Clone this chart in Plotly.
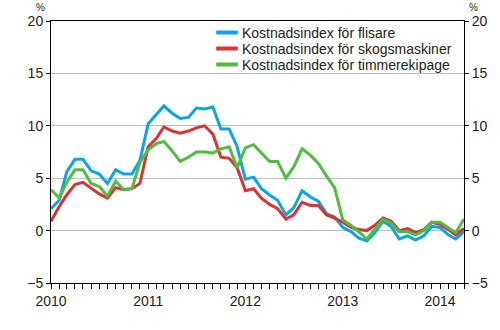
import plotly.graph_objects as go
import pandas as pd

dates = pd.date_range("2010-01-01", "2014-04-01", freq="MS")

flisare = [2.1, 2.9, 5.6, 6.8, 6.8, 5.7, 5.4, 4.5, 5.8, 5.4, 5.4, 6.7,
           10.2, 11.1, 11.9, 11.2, 10.7, 10.8, 11.7, 11.6, 11.8, 9.7, 9.7, 8.0,
           4.9, 5.1, 4.0, 3.4, 2.9, 1.5, 2.2, 3.8, 3.2, 2.8, 1.6, 1.3,
           0.3, -0.1, -0.7, -1.0, -0.2, 0.9, 0.4, -0.8, -0.5, -0.9, -0.5, 0.4,
           0.3, -0.4, -0.8, -0.1]
skogsmaskiner = [0.9, 2.3, 3.4, 4.4, 4.6, 4.0, 3.5, 3.1, 4.1, 3.9, 4.0, 4.5,
                 8.0, 8.8, 9.9, 9.5, 9.3, 9.5, 9.8, 10.0, 9.2, 7.0, 6.9, 6.0,
                 3.8, 4.0, 3.1, 2.5, 2.1, 1.1, 1.5, 2.7, 2.4, 2.4, 1.5, 1.2,
                 0.8, 0.3, 0.1, 0.0, 0.5, 1.2, 0.9, 0.0, 0.2, -0.2, 0.1, 0.8,
                 0.6, 0.1, -0.4, 0.2]
timmerekipage = [3.9, 3.1, 4.6, 5.8, 5.8, 4.5, 4.2, 3.3, 4.7, 3.9, 4.0, 6.5,
                 7.7, 8.3, 8.5, 7.6, 6.6, 7.0, 7.5, 7.5, 7.4, 7.8, 8.0, 6.0,
                 7.9, 8.2, 7.4, 6.6, 6.6, 5.0, 6.1, 7.8, 7.2, 6.4, 5.2, 4.1,
                 1.0, 0.5, -0.1, -0.8, 0.1, 1.1, 0.7, -0.1, -0.1, -0.4, 0.0, 0.8,
                 0.8, 0.3, -0.2, 1.1]

names = ["Kostnadsindex för flisare", "Kostnadsindex för skogsmaskiner",
         "Kostnadsindex för timmerekipage"]
colors = ["#0AA5E6", "#DC3232", "#50BE3C"]
series = [flisare, skogsmaskiner, timmerekipage]

y_ticks = [-5, 0, 5, 10, 15, 20]
year_ticks = ["2010-01-01", "2011-01-01", "2012-01-01", "2013-01-01", "2014-01-01"]
year_labels = ["2010", "2011", "2012", "2013", "2014"]

FAM = "Liberation Sans, Arial, sans-serif"
font = dict(family=FAM, size=14, color="#222222")

# plot area in pixels (for legend placement in paper coords)
L, R, T, B = 51, 471, 21, 283
def px(x):
    return (x - L) / (R - L)
def py(y):
    return 1 - (y - T) / (B - T)

fig = go.Figure()
for name, col, vals in zip(names, colors, series):
    fig.add_trace(go.Scatter(x=dates, y=vals, name=name, mode="lines",
                             line=dict(color=col, width=3)))
# invisible trace for the right axis
fig.add_trace(go.Scatter(x=dates, y=flisare, yaxis="y2", mode="lines",
                         line=dict(width=0), opacity=0, showlegend=False,
                         hoverinfo="skip"))

shapes = [dict(type="rect", xref="paper", yref="paper", x0=px(218), x1=1,
               y0=py(79), y1=py(21.5), fillcolor="white", line=dict(width=0),
               layer="below")]
annotations = []
row_y = [32.5, 48.5, 64.5]
for name, col, yy in zip(names, colors, row_y):
    shapes.append(dict(type="line", xref="paper", yref="paper", x0=px(219), x1=px(241),
                       y0=py(yy), y1=py(yy), line=dict(color=col, width=4)))
    annotations.append(dict(text=name, xref="paper", yref="paper", x=px(243), y=py(yy),
                            xanchor="left", yanchor="middle", showarrow=False,
                            font=font))
pct_font = dict(family=FAM, size=10, color="#222")
annotations += [
    dict(text="%", xref="paper", yref="paper", x=px(40), y=py(7.5), xanchor="center",
         yanchor="middle", showarrow=False, font=pct_font),
    dict(text="%", xref="paper", yref="paper", x=px(481), y=py(7.5), xanchor="center",
         yanchor="middle", showarrow=False, font=pct_font),
]

xr = [dates[0], dates[-1]]
fig.update_layout(
    width=500, height=330,
    margin=dict(l=L, r=500 - R, t=T, b=330 - B),
    paper_bgcolor="white", plot_bgcolor="white",
    font=font,
    showlegend=False,
    xaxis=dict(type="date", range=xr, tickvals=year_ticks, ticktext=year_labels,
               ticks="outside", ticklen=5, tickcolor="black", tickwidth=1,
               showline=True, linecolor="black", linewidth=1, mirror=True,
               showgrid=False, zeroline=False,
               minor=dict(dtick="M1", tick0="2010-01-01", ticks="outside",
                          ticklen=5, tickcolor="black", tickwidth=1, showgrid=False),
               tickfont=font),
    yaxis=dict(range=[-5, 20], tickvals=y_ticks, ticks="outside", ticklen=4,
               tickcolor="black", showline=True, linecolor="black", linewidth=1,
               mirror=True, showgrid=True, gridcolor="#BEBEBE", gridwidth=1,
               zeroline=False, tickfont=font),
    yaxis2=dict(range=[-5, 20], tickvals=y_ticks, overlaying="y", side="right",
                ticks="outside", ticklen=4, tickcolor="black", showline=False,
                showgrid=False, zeroline=False, tickfont=font),
    shapes=shapes,
    annotations=annotations,
)

fig.write_html("out.html")
